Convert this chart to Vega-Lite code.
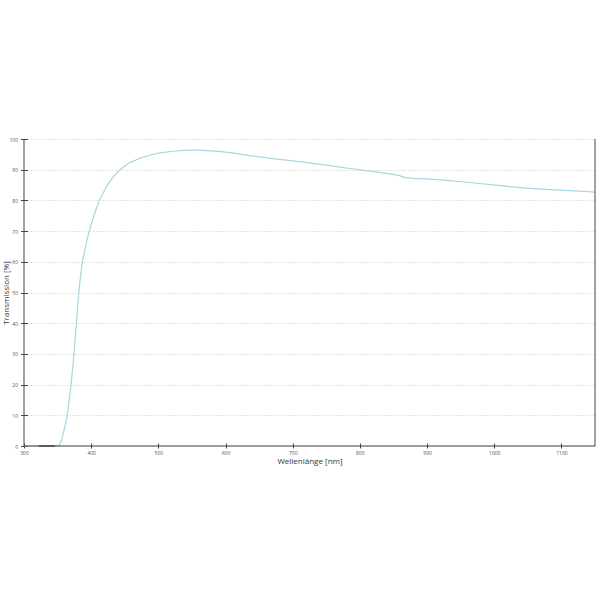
{
  "$schema": "https://vega.github.io/schema/vega-lite/v6.json",
  "width": 571,
  "height": 307,
  "autosize": {"type": "none"},
  "padding": {"left": 24, "top": 139, "right": 5, "bottom": 154},
  "background": "white",
  "config": {
    "view": {"stroke": null},
    "font": "Open Sans",
    "axis": {
      "labelFont": "Open Sans",
      "labelFontSize": 5,
      "labelColor": "#555",
      "labelOverlap": false,
      "labelFlush": false,
      "titleFont": "Open Sans",
      "titleFontSize": 8,
      "titleFontWeight": "normal",
      "titleColor": "#333",
      "tickColor": "#444",
      "domain": false
    },
    "axisY": {"tickCount": 11}
  },
  "datasets": {
    "curve": [
      {"nm": 300, "t": 0}, {"nm": 320, "t": 0}, {"nm": 349, "t": 0},
      {"nm": 353, "t": 0.5}, {"nm": 356, "t": 2}, {"nm": 359, "t": 4.5},
      {"nm": 364.5, "t": 10}, {"nm": 370, "t": 20}, {"nm": 374.5, "t": 30},
      {"nm": 378, "t": 40}, {"nm": 381.5, "t": 50}, {"nm": 384, "t": 55},
      {"nm": 387, "t": 60}, {"nm": 391.5, "t": 65}, {"nm": 397, "t": 70},
      {"nm": 404, "t": 75}, {"nm": 412, "t": 80}, {"nm": 424, "t": 85},
      {"nm": 434, "t": 88}, {"nm": 443, "t": 90}, {"nm": 455, "t": 92},
      {"nm": 472, "t": 93.7}, {"nm": 487, "t": 94.7}, {"nm": 502, "t": 95.5},
      {"nm": 525, "t": 96.1}, {"nm": 545, "t": 96.4}, {"nm": 560, "t": 96.4},
      {"nm": 590, "t": 96.0}, {"nm": 610, "t": 95.5}, {"nm": 636, "t": 94.6},
      {"nm": 670, "t": 93.6}, {"nm": 710, "t": 92.6}, {"nm": 750, "t": 91.5},
      {"nm": 785, "t": 90.4}, {"nm": 829, "t": 89.1}, {"nm": 849, "t": 88.5},
      {"nm": 857, "t": 88.2}, {"nm": 861, "t": 87.9}, {"nm": 866, "t": 87.5},
      {"nm": 880, "t": 87.2}, {"nm": 904, "t": 86.9}, {"nm": 930, "t": 86.5},
      {"nm": 955, "t": 86.0}, {"nm": 978, "t": 85.5}, {"nm": 1010, "t": 84.8},
      {"nm": 1030, "t": 84.3}, {"nm": 1053, "t": 83.9}, {"nm": 1090, "t": 83.4},
      {"nm": 1120, "t": 83.1}, {"nm": 1146, "t": 82.8}, {"nm": 1150, "t": 82.6}
    ],
    "dark": [
      {"nm": 322, "t": 0}, {"nm": 346, "t": 0}
    ]
  },
  "layer": [
    {
      "data": {"name": "curve"},
      "mark": {"type": "line", "color": "#a6d6de", "strokeWidth": 1.2},
      "encoding": {
        "x": {
          "field": "nm",
          "type": "quantitative",
          "scale": {"domain": [300, 1150], "nice": false, "zero": false},
          "axis": {
            "values": [300, 400, 500, 600, 700, 800, 900, 1000, 1100],
            "format": "d",
            "grid": false,
            "offset": -3,
            "tickSize": 5,
            "labelPadding": 2,
            "titlePadding": 2
          },
          "title": "Wellenlänge [nm]"
        },
        "y": {
          "field": "t",
          "type": "quantitative",
          "scale": {"domain": [0, 100], "nice": false},
          "axis": {
            "values": [0, 10, 20, 30, 40, 50, 60, 70, 80, 90, 100],
            "tickCount": 11,
            "grid": true,
            "gridColor": "#bbb",
            "gridDash": [1, 2],
            "gridWidth": 0.8,
            "offset": -3.5,
            "tickSize": 7,
            "labelPadding": 3,
            "titleX": -21.5,
            "titleBaseline": "middle"
          },
          "title": "Transmission [%]"
        }
      }
    },
    {
      "data": {"name": "dark"},
      "mark": {"type": "line", "color": "#4f5f6b", "strokeWidth": 1.6},
      "encoding": {
        "x": {"field": "nm", "type": "quantitative"},
        "y": {
          "field": "t",
          "type": "quantitative",
          "axis": {"values": [0, 10, 20, 30, 40, 50, 60, 70, 80, 90, 100]}
        }
      }
    },
    {
      "data": {"values": [{}]},
      "mark": {"type": "rule", "color": "#444", "strokeWidth": 1},
      "encoding": {
        "x": {"datum": 300},
        "x2": {"datum": 1150},
        "y": {"datum": 0, "axis": {"values": [0, 10, 20, 30, 40, 50, 60, 70, 80, 90, 100]}}
      }
    },
    {
      "data": {"values": [{}]},
      "mark": {"type": "rule", "color": "#444", "strokeWidth": 1},
      "encoding": {
        "x": {"datum": 300},
        "y": {"datum": 0, "axis": {"values": [0, 10, 20, 30, 40, 50, 60, 70, 80, 90, 100]}},
        "y2": {"datum": 100}
      }
    },
    {
      "data": {"values": [{}]},
      "mark": {"type": "rule", "color": "#444", "strokeWidth": 1},
      "encoding": {
        "x": {"datum": 1150},
        "y": {"datum": 0, "axis": {"values": [0, 10, 20, 30, 40, 50, 60, 70, 80, 90, 100]}},
        "y2": {"datum": 100}
      }
    }
  ]
}
